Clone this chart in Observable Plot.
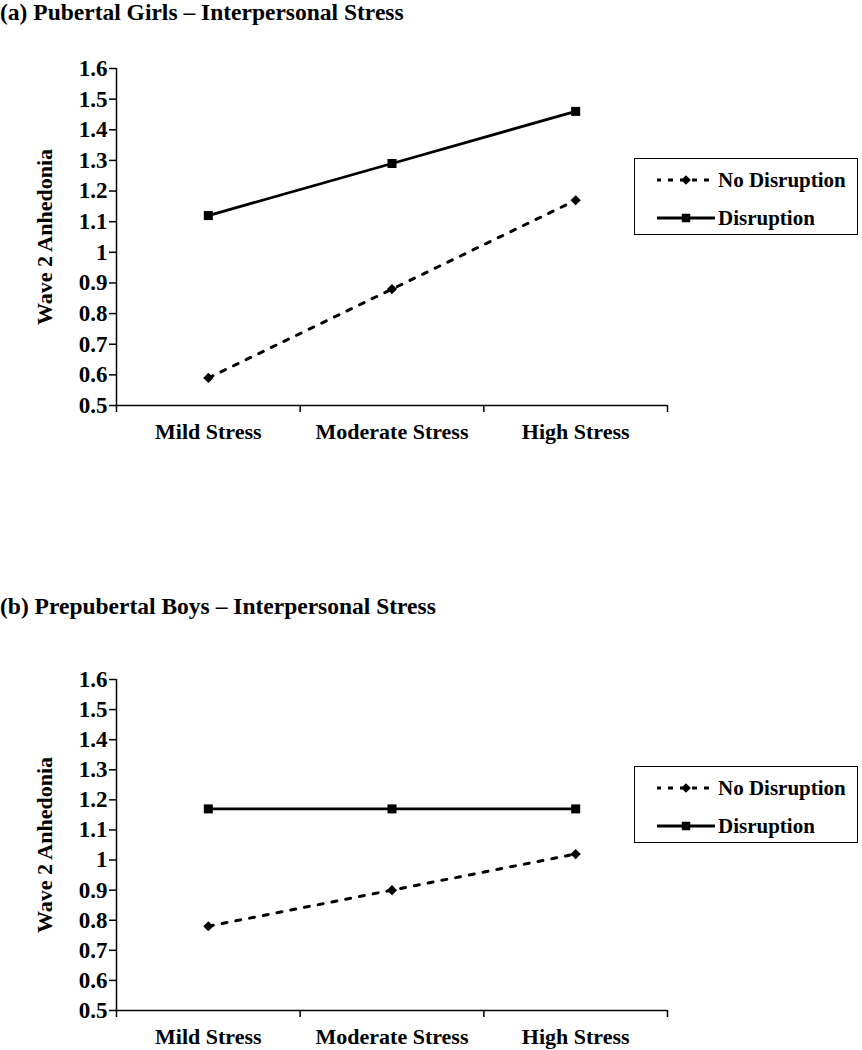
<!DOCTYPE html>
<html>
<head>
<meta charset="utf-8">
<script src="https://cdn.jsdelivr.net/npm/d3@7"></script>
<script src="https://cdn.jsdelivr.net/npm/@observablehq/plot@0.6"></script>
<style>
  body { margin: 0; background: #fff; font-family: "Liberation Serif", "Times New Roman", serif; }
  #root { position: relative; width: 862px; height: 1050px; }
  .panel { position: absolute; left: 0; width: 862px; }
  .panel svg.plot { position: absolute; left: 0; top: 0; }
  .title { position: absolute; left: 0; font-weight: bold; font-size: 23.5px; line-height: 1; white-space: nowrap; }
  .legend { position: absolute; box-sizing: border-box; border: 1.5px solid #000; width: 224px; height: 77px; background: #fff; }
  .legend .row { position: absolute; left: 0; height: 24px; display: flex; align-items: center; }
  .legend .row span { font-weight: bold; font-size: 21px; margin-left: 3px; }
</style>
</head>
<body>
<div id="root"></div>
<script>
const categories = ["Mild Stress", "Moderate Stress", "High Stress"];
const seriesNames = ["No Disruption", "Disruption"];
const yTicks = [0.5, 0.6, 0.7, 0.8, 0.9, 1.0, 1.1, 1.2, 1.3, 1.4, 1.5, 1.6];
const xBoundaries = [-0.5, 0.5, 1.5, 2.5];

const girlsNoDisruption = [0.59, 0.88, 1.17];
const girlsDisruption = [1.12, 1.29, 1.46];
const boysNoDisruption = [0.78, 0.90, 1.02];
const boysDisruption = [1.17, 1.17, 1.17];

const titles = [
  "(a) Pubertal Girls \u2013 Interpersonal Stress",
  "(b) Prepubertal Boys \u2013 Interpersonal Stress"
];

function makePlot(noDis, dis, height, marginTop, marginBottom) {
  const rows = categories.flatMap((c, i) => [
    {i, c, v: noDis[i], s: seriesNames[0]},
    {i, c, v: dis[i], s: seriesNames[1]}
  ]);
  const nd = rows.filter(d => d.s === seriesNames[0]);
  const di = rows.filter(d => d.s === seriesNames[1]);
  return Plot.plot({
    width: 862,
    height,
    marginLeft: 116,
    marginRight: 195,
    marginTop,
    marginBottom,
    x: {type: "linear", domain: [-0.5, 2.5]},
    y: {domain: [0.5, 1.6]},
    style: {fontFamily: '"Liberation Serif", "Times New Roman", serif', fontSize: "22px", fontWeight: "bold", color: "#000", background: "transparent"},
    marks: [
      Plot.axisY({ticks: yTicks, tickSize: 7, tickPadding: 2, strokeWidth: 1.5, fontSize: 23,
        tickFormat: d => String(+d.toFixed(1)),
        label: null}),
      Plot.axisY({ticks: [], tickSize: 0, fontSize: 22,
        label: "Wave 2 Anhedonia", labelAnchor: "center", labelOffset: 80, labelArrow: "none"}),
      Plot.axisX({ticks: xBoundaries, tickSize: 7, strokeWidth: 1.5, tickFormat: () => "", label: null}),
      Plot.axisX({ticks: categories.map((_, i) => i), tickSize: 0, tickPadding: 18, fontSize: 22,
        tickFormat: i => categories[i], label: null}),
      Plot.ruleY([0.5], {stroke: "#000", strokeWidth: 1.5}),
      Plot.ruleX([-0.5], {stroke: "#000", strokeWidth: 1.5}),
      Plot.line(nd, {x: "i", y: "v", stroke: "#000", strokeWidth: 3, strokeDasharray: "5,9"}),
      Plot.line(di, {x: "i", y: "v", stroke: "#000", strokeWidth: 2.8}),
      Plot.dot(nd, {x: "i", y: "v", symbol: "diamond2", fill: "#000", r: 4.6}),
      Plot.dot(di, {x: "i", y: "v", symbol: "square", fill: "#000", r: 5.1})
    ]
  });
}

function makeLegend(left, top) {
  const box = document.createElement("div");
  box.className = "legend";
  box.style.left = left + "px";
  box.style.top = top + "px";
  const rowsY = [9, 47];
  seriesNames.forEach((name, k) => {
    const row = document.createElement("div");
    row.className = "row";
    row.style.top = rowsY[k] + "px";
    const svg = d3.create("svg").attr("width", 80).attr("height", 24);
    const line = svg.append("line").attr("x1", 22).attr("x2", 80).attr("y1", 12).attr("y2", 12)
      .attr("stroke", "#000").attr("stroke-width", k === 0 ? 3 : 2.8);
    if (k === 0) line.attr("stroke-dasharray", "5,7").attr("stroke-dashoffset", 1);
    const sym = k === 0 ? d3.symbolDiamond2 : d3.symbolSquare;
    svg.append("path").attr("d", d3.symbol(sym, k === 0 ? 60 : 72)())
      .attr("transform", "translate(51,12)").attr("fill", "#000");
    row.appendChild(svg.node());
    const span = document.createElement("span");
    span.textContent = name;
    row.appendChild(span);
    box.appendChild(row);
  });
  return box;
}

const root = document.getElementById("root");
const specs = [
  {top: 0, noDis: girlsNoDisruption, dis: girlsDisruption, height: 470, mt: 68, mb: 65, titleTop: 1, legendTop: 158},
  {top: 600, noDis: boysNoDisruption, dis: boysDisruption, height: 450, mt: 79, mb: 40, titleTop: -5, legendTop: 166}
];
specs.forEach((s, idx) => {
  const panel = document.createElement("div");
  panel.className = "panel";
  panel.style.top = s.top + "px";
  panel.style.height = s.height + "px";
  const t = document.createElement("div");
  t.className = "title";
  t.style.top = s.titleTop + "px";
  t.textContent = titles[idx];
  panel.appendChild(t);
  const p = makePlot(s.noDis, s.dis, s.height, s.mt, s.mb);
  p.classList.add("plot");
  panel.appendChild(p);
  panel.appendChild(makeLegend(634, s.legendTop));
  root.appendChild(panel);
});
</script>
</body>
</html>
